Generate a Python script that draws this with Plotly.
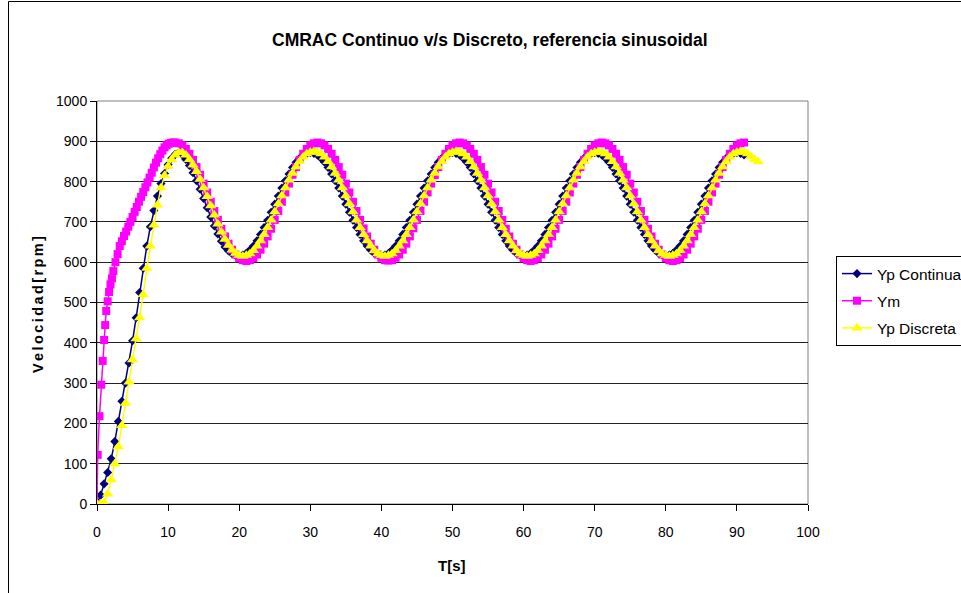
import numpy as np
import plotly.graph_objects as go

# ---------------- data ----------------
# Ym (reference model output) - early irregular samples
t_ym_early = [0, 0.1, 0.35, 0.6, 0.8, 1.0, 1.15, 1.3, 1.5, 1.7, 1.9, 2.1, 2.3, 2.6, 2.9,
              3.2, 3.5, 3.8, 4.1, 4.4, 4.7, 5.0, 5.3, 5.6, 5.9, 6.2, 6.5, 6.8, 7.1, 7.4,
              7.7, 8.0, 8.3, 8.6, 8.9, 9.2, 9.5, 9.8, 10.1, 10.4, 10.7, 11.0]
ym_early = [0, 122, 218, 296, 355, 407, 444, 479, 503, 526, 545, 560, 578, 600, 620,
            640, 652, 665, 676, 688, 700, 712, 725, 737, 750, 762, 774, 786, 798, 810,
            822, 835, 847, 858, 868, 877, 885, 890, 894, 896, 897, 897]
# Ym from t = 11.5 s to 91.0 s every 0.5 s
ym_late = [
    895, 890, 881, 869, 854, 836, 817, 795, 773, 750, 727, 705, 683, 664, 646, 631, 619, 610, 605, 603,
    605, 610, 619, 631, 646, 664, 683, 705, 727, 750, 773, 795, 817, 836, 854, 869, 881, 890, 895, 897,
    895, 890, 881, 869, 854, 836, 817, 795, 773, 750, 727, 705, 684, 664, 646, 631, 619, 611, 605, 604,
    605, 611, 619, 631, 646, 664, 684, 705, 727, 750, 773, 795, 816, 836, 854, 869, 881, 890, 895, 897,
    895, 890, 881, 869, 854, 836, 817, 795, 773, 750, 727, 705, 683, 664, 646, 631, 619, 610, 605, 603,
    605, 610, 619, 631, 646, 664, 683, 705, 727, 750, 773, 795, 817, 836, 854, 869, 881, 890, 895, 897,
    895, 890, 881, 869, 854, 836, 817, 795, 773, 750, 727, 705, 683, 664, 646, 631, 619, 610, 605, 603,
    605, 610, 619, 631, 646, 664, 683, 705, 727, 750, 773, 795, 817, 836, 854, 869, 881, 890, 895, 897,
]

# Yp Continua, every 0.5 s from t = 0 to 91 s
yp_cont = [
    0, 22, 50, 78, 112, 155, 205, 255, 300, 350,
    405, 462, 525, 585, 640, 688, 728, 764, 795, 820,
    842, 858, 868, 872, 866, 855, 840, 822, 802, 781,
    758, 735, 712, 690, 670, 652, 638, 628, 621, 617, 616,
    618, 622, 630, 640, 653, 669, 686, 704, 724, 744, 764, 784, 802, 819, 835, 848, 858, 866, 870, 872,
    870, 866, 858, 848, 835, 819, 802, 784, 764, 744, 724, 704, 686, 669, 653, 640, 630, 622, 618, 616,
    618, 622, 630, 640, 653, 669, 686, 704, 724, 744, 764, 784, 802, 819, 835, 848, 858, 866, 870, 872,
    870, 866, 858, 848, 835, 819, 802, 784, 764, 744, 724, 704, 686, 669, 653, 640, 630, 622, 618, 616,
    618, 622, 630, 640, 653, 669, 686, 704, 724, 744, 764, 784, 802, 819, 835, 848, 858, 866, 870, 872,
    870, 866, 858, 848, 835, 819, 802, 784, 764, 744, 724, 704, 686, 669, 653, 640, 630, 622, 618, 616,
    618, 622, 630, 640, 653, 669, 686, 704, 724, 744, 764, 784, 802, 819, 835, 848, 858, 866, 870, 872,
    870, 866,
]

# Yp Discreta, every 0.5 s from t = 0 to 93 s
yp_disc = [
    0, 0, 3, 25, 60, 100, 142, 195, 250, 303,
    358, 410, 462, 520, 585, 640, 692, 742, 785, 815,
    838, 855, 866, 872, 872, 866, 855, 841, 825, 806,
    785, 763, 740, 717, 695, 675, 657, 642, 630, 622, 617, 615,
    617, 621, 629, 640, 653, 669, 686, 705, 725, 745, 765, 785, 804, 821, 837, 850, 861, 869, 873, 875,
    873, 869, 861, 850, 837, 821, 804, 785, 765, 745, 725, 705, 686, 669, 653, 640, 629, 621, 617, 615,
    617, 621, 629, 640, 653, 669, 686, 705, 725, 745, 765, 785, 804, 821, 837, 850, 861, 869, 873, 875,
    873, 869, 861, 850, 837, 821, 804, 785, 765, 745, 725, 705, 686, 669, 653, 640, 629, 621, 617, 615,
    617, 621, 629, 640, 653, 669, 686, 705, 725, 745, 765, 785, 804, 821, 837, 850, 861, 869, 873, 875,
    873, 869, 861, 850, 837, 821, 804, 785, 765, 745, 725, 705, 686, 669, 653, 640, 629, 621, 617, 615,
    617, 621, 629, 640, 653, 669, 686, 705, 725, 745, 765, 785, 804, 821, 837, 850, 861, 869, 873, 875,
    873, 869, 862, 855, 849,
]

x_ticks = [0, 10, 20, 30, 40, 50, 60, 70, 80, 90, 100]
y_ticks = [0, 100, 200, 300, 400, 500, 600, 700, 800, 900, 1000]

SAMPLE_DT = 0.5
t_ym = t_ym_early + list(11.5 + SAMPLE_DT * np.arange(len(ym_late)))
ym = ym_early + ym_late
t_cont = list(SAMPLE_DT * np.arange(len(yp_cont)))
t_disc = list(SAMPLE_DT * np.arange(len(yp_disc)))

FONT = "Liberation Sans, Arial, sans-serif"

fig = go.Figure()
fig.add_trace(go.Scatter(
    x=t_cont, y=yp_cont, name="Yp Continua", mode="lines+markers", legendgroup="a",
    line=dict(color="#000080", width=1.5),
    marker=dict(symbol="diamond", size=7, color="#000080")))
fig.add_trace(go.Scatter(
    x=t_ym, y=ym, name="Ym", mode="lines+markers", legendgroup="b",
    line=dict(color="#FF00FF", width=1.5),
    marker=dict(symbol="square", size=8, color="#FF00FF")))
fig.add_trace(go.Scatter(
    x=t_disc, y=yp_disc, name="Yp Discreta", mode="lines+markers", legendgroup="c",
    line=dict(color="#FFFF00", width=1.5),
    marker=dict(symbol="triangle-up", size=10, color="#FFFF00")))

L, R, T, B = 97, 153, 101, 89
W, H = 961, 593
pw, ph = W - L - R, H - T - B

def px2x(p):
    return (p - L) / pw

def py2y(p):
    return 1 - (p - T) / ph

SP = "&#8198;"
ytitle = SP.join(list("Velocidad[rpm]"))

fig.update_layout(
    width=W, height=H,
    margin=dict(l=L, r=R, t=T, b=B, autoexpand=False),
    paper_bgcolor="white", plot_bgcolor="white",
    font=dict(family=FONT, size=14, color="black"),
    showlegend=True,
    legend=dict(x=px2x(836), y=py2y(256), xanchor="left", yanchor="top",
                bordercolor="black", borderwidth=1, bgcolor="white",
                font=dict(size=15.5), tracegroupgap=4, itemwidth=30),
    xaxis=dict(range=[0, 100], tickvals=x_ticks, ticks="outside", ticklen=6,
               tickcolor="black", showline=True, linecolor="black", linewidth=1,
               showgrid=False, zeroline=False, ticklabelstandoff=9,
               tickfont=dict(size=14)),
    yaxis=dict(range=[0, 1000], tickvals=y_ticks, ticks="outside", ticklen=6,
               tickcolor="black", showline=True, linecolor="black", linewidth=1,
               showgrid=True, gridcolor="#222222", gridwidth=1, zeroline=False,
               tickfont=dict(size=14)),
    annotations=[
        dict(text="<b>CMRAC Continuo v/s Discreto, referencia sinusoidal</b>",
             xref="paper", yref="paper", x=px2x(490), y=py2y(40),
             xanchor="center", yanchor="middle", showarrow=False,
             font=dict(size=17.5, family=FONT)),
        dict(text="<b>T[s]</b>", xref="paper", yref="paper", x=px2x(452), y=py2y(565),
             xanchor="center", yanchor="middle", showarrow=False, font=dict(size=15)),
        dict(text="<b>" + ytitle + "</b>",
             xref="paper", yref="paper", x=px2x(38), y=py2y(305),
             xanchor="center", yanchor="middle", showarrow=False, textangle=-90,
             font=dict(size=14.5)),
    ],
    shapes=[
        dict(type="rect", xref="paper", yref="paper", x0=0, x1=1, y0=0, y1=1,
             line=dict(color="#808080", width=1), layer="below"),
        dict(type="rect", xref="paper", yref="paper", x0=px2x(8.5), x1=px2x(1200),
             y0=py2y(800), y1=py2y(1.5), line=dict(color="black", width=1)),
    ],
)

fig.write_html("out.html")
